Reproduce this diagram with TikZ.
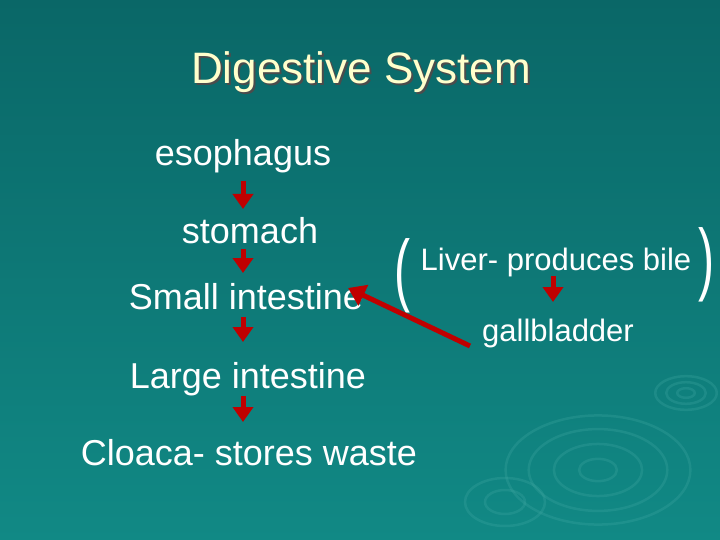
\documentclass[tikz,border=0pt]{standalone}
\usepackage{fontspec}
\setmainfont{Liberation Sans}
\usepackage{xcolor}
\usepackage{tikz}
\usetikzlibrary{arrows.meta}
\definecolor{slidetop}{HTML}{0A6767}
\definecolor{slidebot}{HTML}{118985}
\definecolor{ripple}{HTML}{3FA7A2}
\definecolor{titleyel}{HTML}{FFFFCC}
\definecolor{arrowred}{HTML}{C00000}
\tikzset{
    organ/.style = {text=white, align=center, inner sep=0pt, text height=0.75em, text depth=0.22em, font=\fontsize{36}{42}\selectfont},
    gland/.style = {organ, font=\fontsize{31}{36}\selectfont},
    paren/.style = {text=white, inner sep=0pt, xscale=0.6, font=\fontsize{80}{90}\selectfont},
    flow/.style = {draw=arrowred, line width=5pt, -{Triangle[width=20pt,length=15pt]}, shorten <=3pt, shorten >=3pt},
    joinflow/.style = {draw=arrowred, line width=5pt, -{Triangle[width=22pt,length=17pt]}},
    ring/.style = {draw=ripple, opacity=0.3, line width=2.5pt}
}
\begin{document}
\begin{tikzpicture}[x=1pt,y=-1pt]
    % background
    \shade[top color=slidetop, bottom color=slidebot] (0,0) rectangle (720,540);
    \useasboundingbox (0,0) rectangle (720,540);
    % ripples
    \foreach \r in {18,42,66,88} {
        \draw[ring] (598,470) circle [x radius=\r*1.05, y radius=\r*0.62];
    }
    \foreach \r in {8,18,28} {
        \draw[ring] (686,393) circle [x radius=\r*1.1, y radius=\r*0.6];
    }
    \foreach \r in {20,40} {
        \draw[ring] (505,502) circle [x radius=\r, y radius=\r*0.6];
    }
    % title
    \node[text=black!70, font=\fontsize{44}{50}\selectfont] at (363,74) {Digestive System};
    \node[text=titleyel, font=\fontsize{44}{50}\selectfont] (title) at (361,72) {Digestive System};
    % main tract
    \node[organ] (esophagus) at (243,163) {esophagus};
    \node[organ] (stomach) at (250,241) {stomach};
    \node[organ] (smallint) at (246,307) {Small intestine};
    \node[organ] (largeint) at (248,386) {Large intestine};
    \node[organ] (cloaca) at (249,463) {Cloaca- stores waste};
    % liver side
    \node[paren] (lparen) at (402,276) {(};
    \node[paren] (rparen) at (706,265) {)};
    \node[gland] (liver) at (556,268) {Liver- produces bile};
    \node[gland] (gallbladder) at (558,339) {gallbladder};
    % arrows
    \draw[flow] (243,178) -- (243,212);
    \draw[flow] (243,246) -- (243,276);
    \draw[flow] (243,314) -- (243,345);
    \draw[flow] (243,393) -- (243,425);
    \draw[flow] (553,273) -- (553,305);
    \coordinate (bileend) at (470,346);
    \draw[joinflow] (bileend) -- (348,288);
\end{tikzpicture}
\end{document}
